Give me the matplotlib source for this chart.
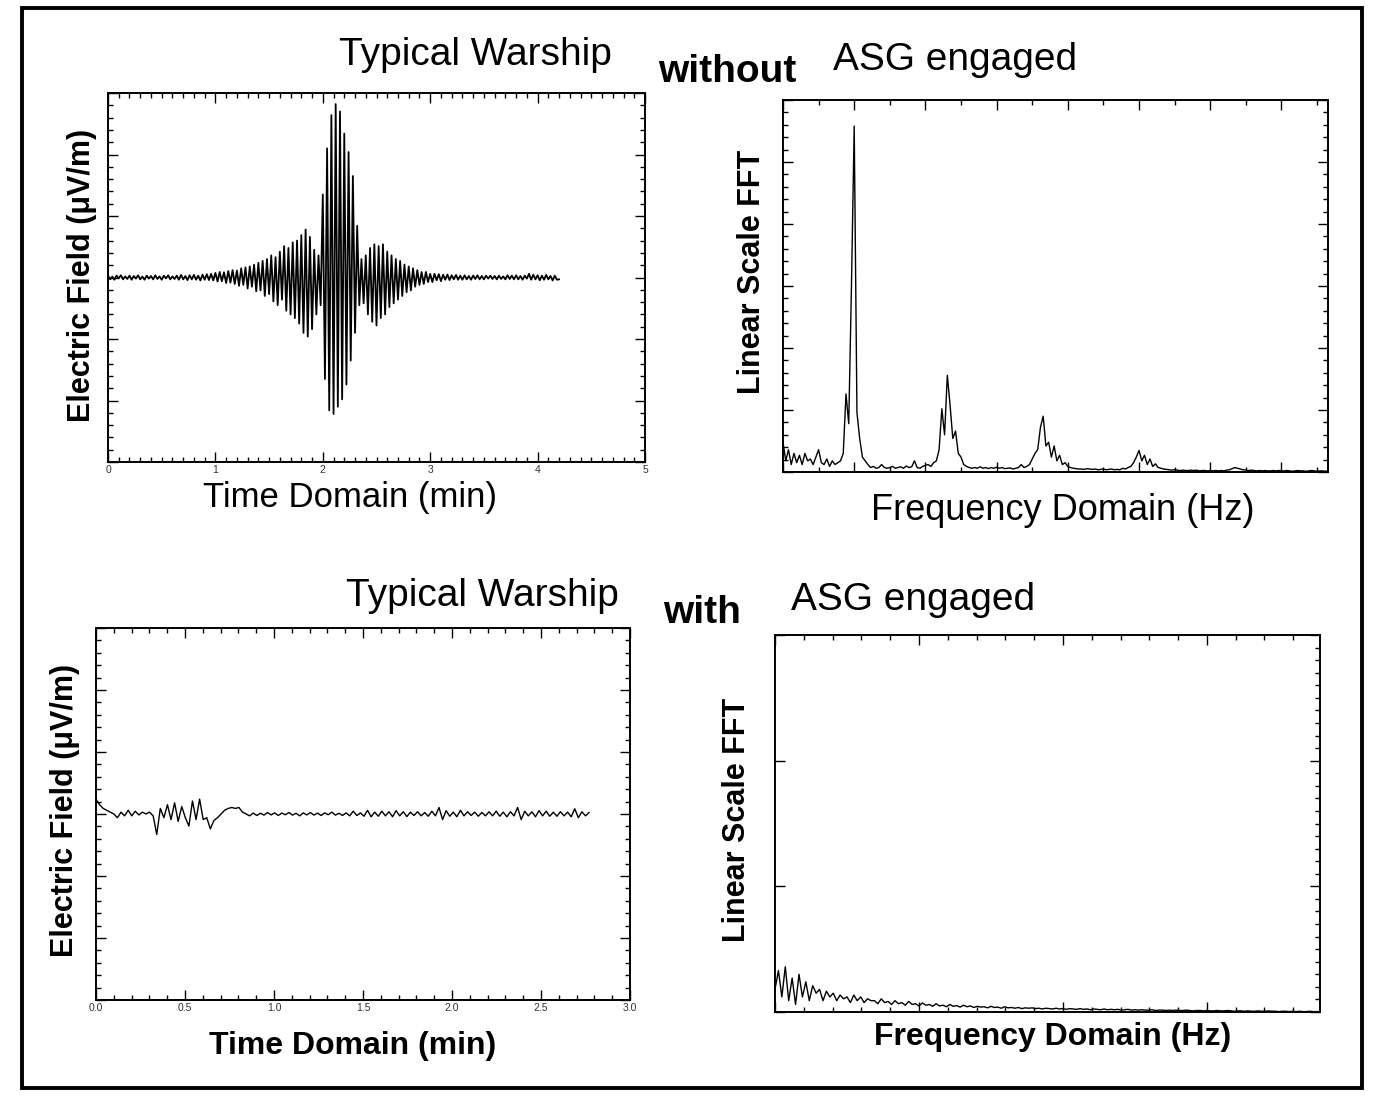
import matplotlib as mpl
import matplotlib.pyplot as plt
import numpy as np
from matplotlib.patches import Rectangle
from matplotlib.ticker import MultipleLocator, NullFormatter

mpl.use("Agg")
plt.rcParams["font.family"] = ["Liberation Sans", "DejaVu Sans"]

# --- top-left: electric field without ASG (min, normalized field) ---
t_end_without = 4.2
field_without = [
    0.01, -0.01, 0.005, -0.012, 0.01, -0.005, 0.012, -0.01, 0.006, -0.008,
    0.01, -0.012, 0.008, -0.006, 0.012, -0.01, 0.005, -0.012, 0.01, -0.006,
    0.008, -0.01, 0.012, -0.008, 0.006, -0.012, 0.01, -0.005, 0.012, -0.01,
    0.006, -0.008, 0.01, -0.012, 0.014, -0.01, 0.008, -0.014, 0.012, -0.01,
    0.014, -0.012, 0.01, -0.016, 0.015, -0.012, 0.018, -0.014, 0.02, -0.016,
    0.025, -0.022, 0.03, -0.02, 0.028, -0.03, 0.035, -0.028, 0.04, -0.035,
    0.038, -0.045, 0.05, -0.04, 0.055, -0.06, 0.06, -0.05, 0.07, -0.075,
    0.08, -0.07, 0.09, -0.1, 0.1, -0.09, 0.12, -0.13, 0.11, -0.15,
    0.14, -0.12, 0.17, -0.18, 0.16, -0.2, 0.19, -0.22, 0.2, -0.25,
    0.23, -0.3, 0.26, -0.32, 0.22, -0.28, 0.15, -0.2, 0.12, -0.15,
    0.45, -0.55, 0.7, -0.72, 0.88, -0.74, 0.94, -0.7, 0.9, -0.66,
    0.78, -0.58, 0.68, -0.45, 0.55, -0.3, 0.28, -0.15, 0.1, -0.14,
    0.12, -0.2, 0.16, -0.24, 0.18, -0.26, 0.17, -0.22, 0.18, -0.2,
    0.14, -0.16, 0.12, -0.14, 0.1, -0.12, 0.09, -0.1, 0.07, -0.08,
    0.06, -0.07, 0.05, -0.05, 0.04, -0.04, 0.03, -0.035, 0.03, -0.025,
    0.02, -0.025, 0.02, -0.015, 0.018, -0.02, 0.015, -0.012, 0.016, -0.014,
    0.012, -0.01, 0.014, -0.012, 0.01, -0.012, 0.012, -0.01, 0.008, -0.012,
    0.01, -0.008, 0.012, -0.01, 0.008, -0.01, 0.01, -0.006, 0.01, -0.008,
    0.008, -0.01, 0.01, -0.008, 0.006, -0.01, 0.012, -0.008, 0.01, -0.01,
    0.012, -0.01, 0.008, -0.012, 0.01, -0.006, 0.02, -0.012, 0.015, -0.01,
    0.012, -0.015, 0.01, -0.012, 0.014, -0.01, 0.008, -0.016, 0.01, -0.012, -0.01,
]

# --- top-right: FFT without ASG (bins, linear amplitude) ---
fft_without = [
    0.08, 0.03, 0.06, 0.02, 0.05, 0.025, 0.045, 0.02, 0.05, 0.03,
    0.035, 0.02, 0.04, 0.06, 0.025, 0.02, 0.035, 0.015, 0.03, 0.02,
    0.025, 0.03, 0.05, 0.21, 0.13, 0.5, 0.93, 0.16, 0.09, 0.04,
    0.03, 0.02, 0.012, 0.015, 0.01, 0.012, 0.02, 0.012, 0.01, 0.012,
    0.015, 0.01, 0.012, 0.014, 0.01, 0.016, 0.012, 0.014, 0.03, 0.012,
    0.01, 0.015, 0.018, 0.02, 0.015, 0.025, 0.03, 0.06, 0.17, 0.1,
    0.26, 0.18, 0.09, 0.11, 0.05, 0.04, 0.02, 0.015, 0.012, 0.01,
    0.012, 0.01, 0.014, 0.01, 0.012, 0.009, 0.012, 0.01, 0.013, 0.01,
    0.012, 0.009, 0.01, 0.011, 0.008, 0.01, 0.012, 0.02, 0.012, 0.015,
    0.02, 0.035, 0.05, 0.06, 0.12, 0.15, 0.07, 0.08, 0.04, 0.07,
    0.03, 0.045, 0.02, 0.025, 0.015, 0.012, 0.01, 0.009, 0.008, 0.008,
    0.007, 0.009, 0.008, 0.007, 0.008, 0.006, 0.007, 0.008, 0.006, 0.007,
    0.008, 0.006, 0.007, 0.006, 0.01, 0.008, 0.012, 0.015, 0.025, 0.04,
    0.058, 0.03, 0.045, 0.02, 0.035, 0.015, 0.022, 0.012, 0.01, 0.008,
    0.007, 0.006, 0.005, 0.006, 0.005, 0.004, 0.005, 0.004, 0.004, 0.005,
    0.004, 0.005, 0.003, 0.004, 0.004, 0.003, 0.004, 0.003, 0.004, 0.003,
    0.004, 0.003, 0.005, 0.006, 0.009, 0.012, 0.01, 0.008, 0.006, 0.005,
    0.004, 0.005, 0.004, 0.003, 0.004, 0.003, 0.004, 0.003, 0.003, 0.004,
    0.003, 0.004, 0.003, 0.003, 0.004, 0.003, 0.002, 0.003, 0.004, 0.003,
    0.003, 0.002, 0.003, 0.004, 0.003, 0.002, 0.003, 0.003, 0.002, 0.003,
]

# --- bottom-left: electric field with ASG ---
t_end_with = 2.77
field_with = [
    0.08, 0.05, 0.03, 0.02, 0.01, 0.0, -0.02, 0.01, -0.01, 0.02,
    -0.01, 0.015, -0.005, 0.01, 0.0, 0.01, -0.01, -0.11, 0.03, -0.02,
    0.05, -0.03, 0.06, -0.04, 0.04, -0.02, -0.065, 0.07, -0.03, 0.08,
    -0.03, -0.02, -0.08, -0.035, -0.02, 0.0, 0.02, 0.03, 0.035, 0.03,
    0.035, 0.01, 0.0, -0.01, 0.005, -0.008, 0.004, -0.006, 0.008, -0.005,
    0.006, -0.008, 0.005, -0.004, 0.008, -0.006, 0.004, -0.01, 0.006, -0.005,
    0.008, -0.006, 0.005, -0.008, 0.006, -0.004, 0.01, -0.006, 0.004, -0.008,
    0.006, -0.01, 0.015, -0.008, 0.006, -0.012, 0.02, -0.015, 0.01, -0.012,
    0.015, -0.01, 0.012, -0.015, 0.018, -0.01, 0.012, -0.014, 0.01, -0.008,
    0.012, -0.01, 0.008, -0.012, 0.015, -0.01, 0.035, -0.03, 0.018, -0.012,
    0.01, -0.015, 0.02, -0.01, 0.012, -0.008, 0.01, -0.012, 0.008, -0.01,
    0.012, -0.01, 0.015, -0.012, 0.01, -0.015, 0.012, -0.01, 0.035, -0.03,
    0.015, -0.01, 0.012, -0.015, 0.018, -0.01, 0.015, -0.012, 0.01, -0.012,
    0.012, -0.01, 0.01, -0.015, 0.028, -0.02, 0.012, -0.01, 0.008,
]

# --- bottom-right: FFT with ASG ---
fft_with = [
    0.06, 0.11, 0.04, 0.12, 0.03, 0.09, 0.02, 0.10, 0.04, 0.08,
    0.03, 0.07, 0.05, 0.06, 0.03, 0.055, 0.04, 0.05, 0.03, 0.045,
    0.035, 0.04, 0.025, 0.045, 0.03, 0.04, 0.025, 0.035, 0.03, 0.03,
    0.022, 0.035, 0.025, 0.028, 0.02, 0.03, 0.022, 0.025, 0.018, 0.028,
    0.02, 0.022, 0.016, 0.024, 0.018, 0.02, 0.015, 0.022, 0.016, 0.018,
    0.014, 0.02, 0.015, 0.017, 0.013, 0.018, 0.014, 0.016, 0.012, 0.015,
    0.013, 0.014, 0.011, 0.015, 0.012, 0.013, 0.01, 0.014, 0.011, 0.012,
    0.01, 0.012, 0.009, 0.011, 0.01, 0.011, 0.009, 0.01, 0.008, 0.01,
    0.009, 0.008, 0.01, 0.008, 0.009, 0.007, 0.009, 0.008, 0.007, 0.009,
    0.007, 0.008, 0.006, 0.008, 0.007, 0.006, 0.008, 0.006, 0.007, 0.006,
    0.007, 0.005, 0.006, 0.007, 0.005, 0.006, 0.005, 0.006, 0.005, 0.005,
    0.006, 0.004, 0.005, 0.005, 0.004, 0.005, 0.004, 0.005, 0.004, 0.004,
    0.005, 0.004, 0.003, 0.004, 0.004, 0.003, 0.004, 0.003, 0.003, 0.004,
    0.003, 0.003, 0.004, 0.003, 0.002, 0.003, 0.003, 0.002, 0.003, 0.002,
    0.002, 0.003, 0.002, 0.002, 0.003, 0.002, 0.002, 0.001, 0.002, 0.002,
    0.001, 0.002, 0.001, 0.002, 0.001, 0.001, 0.002, 0.001, 0.001, 0.001,
]

W, H = 1377, 1102


def rect(x0, y0, x1, y1):
    # pixel box (top-left origin) -> figure fraction
    return [x0 / W, 1 - y1 / H, (x1 - x0) / W, (y1 - y0) / H]


def pos(x, y):
    return x / W, 1 - y / H


def style(ax, xmaj, xmin, ymaj, ymin, ticklabels=False):
    for s in ax.spines.values():
        s.set_linewidth(1.4)
    ax.xaxis.set_major_locator(MultipleLocator(xmaj))
    ax.xaxis.set_minor_locator(MultipleLocator(xmin))
    ax.yaxis.set_major_locator(MultipleLocator(ymaj))
    ax.yaxis.set_minor_locator(MultipleLocator(ymin))
    ax.tick_params(which="both", direction="in", top=True, right=True, width=1.0)
    ax.tick_params(which="major", length=7)
    ax.tick_params(which="minor", length=3.5)
    ax.yaxis.set_major_formatter(NullFormatter())
    if not ticklabels:
        ax.xaxis.set_major_formatter(NullFormatter())
    else:
        ax.tick_params(axis="x", labelsize=7.5, pad=2, labelcolor="#333333")


fig = plt.figure(figsize=(W / 100, H / 100), dpi=100)
fig.patches.append(
    Rectangle((22 / W, 1 - 1088 / H), 1340 / W, 1080 / H, transform=fig.transFigure,
              fill=False, lw=2.8, ec="black")
)

# top-left
ax1 = fig.add_axes(rect(108, 93, 645, 462))
t1 = np.linspace(0, t_end_without, len(field_without))
ax1.plot(t1, field_without, color="black", lw=1.3)
ax1.set_xlim(0, 5)
ax1.set_ylim(-1, 1)
style(ax1, 1, 0.1, 1 / 3, 1 / 15, ticklabels=True)
ax1.set_xticks([0, 1, 2, 3, 4, 5], ["0", "1", "2", "3", "4", "5"])

# top-right
ax2 = fig.add_axes(rect(783, 100, 1328, 472))
ax2.plot(np.arange(len(fft_without)), fft_without, color="black", lw=1.0)
ax2.set_xlim(0, len(fft_without) - 1)
ax2.set_ylim(0, 1)
style(ax2, 26, 13, 1 / 6, 1 / 30)

# bottom-left
ax3 = fig.add_axes(rect(96, 628, 630, 1000))
t3 = np.linspace(0, t_end_with, len(field_with))
ax3.plot(t3, field_with, color="black", lw=1.0)
ax3.set_xlim(0, 3)
ax3.set_ylim(-1, 1)
style(ax3, 0.5, 0.1, 1 / 3, 1 / 15, ticklabels=True)
ax3.set_xticks([0, 0.5, 1, 1.5, 2, 2.5, 3], ["0.0", "0.5", "1.0", "1.5", "2.0", "2.5", "3.0"])

# bottom-right
ax4 = fig.add_axes(rect(775, 635, 1320, 1012))
ax4.plot(np.arange(len(fft_with)), fft_with, color="black", lw=1.0)
ax4.set_xlim(0, len(fft_with) - 1)
ax4.set_ylim(0, 1)
style(ax4, 42, 8.4, 1 / 3, 1 / 30)
ax4.tick_params(which="minor", axis="y", left=False)

# titles
fig.text(*pos(475, 55), "Typical Warship", fontsize=28, ha="center", va="center")
fig.text(*pos(727, 72), "without", fontsize=28, fontweight="bold", ha="center", va="center")
fig.text(*pos(955, 60), "ASG engaged", fontsize=28, ha="center", va="center")
fig.text(*pos(482, 596), "Typical Warship", fontsize=28, ha="center", va="center")
fig.text(*pos(702, 613), "with", fontsize=28, fontweight="bold", ha="center", va="center")
fig.text(*pos(913, 600), "ASG engaged", fontsize=28, ha="center", va="center")

# axis labels
fig.text(*pos(82, 275), "Electric Field (μV/m)", fontsize=22, fontweight="bold",
         rotation=90, ha="center", va="center")
fig.text(*pos(65, 810), "Electric Field (μV/m)", fontsize=22, fontweight="bold",
         rotation=90, ha="center", va="center")
fig.text(*pos(752, 272), "Linear Scale FFT", fontsize=22, fontweight="bold",
         rotation=90, ha="center", va="center")
fig.text(*pos(737, 820), "Linear Scale FFT", fontsize=22, fontweight="bold",
         rotation=90, ha="center", va="center")
fig.text(*pos(350, 498), "Time Domain (min)", fontsize=25, ha="center", va="center")
fig.text(*pos(1063, 510), "Frequency Domain (Hz)", fontsize=26, ha="center", va="center")
fig.text(*pos(353, 1046), "Time Domain (min)", fontsize=23, fontweight="bold",
         ha="center", va="center")
fig.text(*pos(1053, 1037), "Frequency Domain (Hz)", fontsize=23, fontweight="bold",
         ha="center", va="center")

fig.savefig("out.png", dpi=100)
